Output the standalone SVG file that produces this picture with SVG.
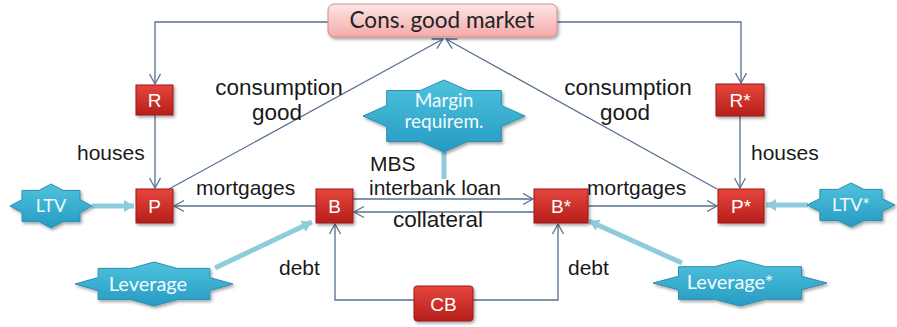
<svg xmlns="http://www.w3.org/2000/svg" width="897" height="327" viewBox="0 0 897 327">
<style>
.box{fill:url(#redg);stroke:#9e1a1a;stroke-width:1;filter:url(#sh)}
.bt{font-family:"Liberation Sans",Arial,sans-serif;font-size:19px;fill:#fff;text-anchor:middle}
.star{fill:url(#blueg);stroke:#2a8fb0;stroke-width:1;filter:url(#sh)}
.st{font-family:Lato,"Open Sans",sans-serif;font-size:19px;fill:#f2fbff;text-anchor:middle}
.ln{fill:none;stroke:#56708f;stroke-width:1.3;marker-end:url(#arr)}
.th{fill:none;stroke:#8fccdb;stroke-width:5;marker-end:url(#tarr)}
.lb{font-family:"Liberation Sans",Arial,sans-serif;font-size:21px;fill:#1a1a1a}
.big{font-size:22.5px;text-anchor:middle}
</style>
<defs>
<linearGradient id="redg" x1="0" y1="0" x2="0" y2="1">
<stop offset="0" stop-color="#e6453d"/><stop offset="1" stop-color="#b51f1b"/>
</linearGradient>
<linearGradient id="blueg" x1="0" y1="0" x2="0" y2="1">
<stop offset="0" stop-color="#4fc2dd"/><stop offset="1" stop-color="#269bc2"/>
</linearGradient>
<linearGradient id="pinkg" x1="0" y1="0" x2="0" y2="1">
<stop offset="0" stop-color="#fde6e6"/><stop offset="1" stop-color="#f5a9a9"/>
</linearGradient>
<filter id="sh" x="-20%" y="-20%" width="140%" height="150%">
<feDropShadow dx="1.5" dy="2" stdDeviation="1.5" flood-color="#000" flood-opacity="0.35"/>
</filter>
<marker id="arr" markerUnits="userSpaceOnUse" markerWidth="14" markerHeight="14" refX="11" refY="7" orient="auto">
<path d="M1,1.5 L11,7 L1,12.5" fill="none" stroke="#56708f" stroke-width="1.3"/>
</marker>
<marker id="tarr" markerUnits="userSpaceOnUse" markerWidth="14" markerHeight="14" refX="10" refY="7" orient="auto">
<path d="M0,1 L10,7 L0,13 Z" fill="#8fccdb"/>
</marker>
</defs>
<rect width="897" height="327" fill="#fff"/>

<g id="connectors">
<path class="ln" d="M328,22 H155 V84"/>
<path class="ln" d="M557,22 H741 V83"/>
<path class="ln" d="M155,115 V188"/>
<path class="ln" d="M740,116 V188"/>
<path class="ln" d="M169,189 L443,39"/>
<path class="ln" d="M717,189 L446,39"/>
<path class="ln" d="M316,206 H174"/>
<path class="ln" d="M588,206 H717"/>
<path class="ln" d="M353,199 H533"/>
<path class="ln" d="M534,212 H354"/>
<path class="ln" d="M414,300 H335 V224"/>
<path class="ln" d="M473,300 H558 V224"/>
<path class="th" d="M92,206 H134"/>
<path class="th" d="M808,205 H766"/>
<path class="th" d="M444,150 V179" style="marker-end:none"/>
<path class="th" d="M215,268 L312,222"/>
<path class="th" d="M682,263 L589,221"/>
</g>

<g id="market">
<rect x="328" y="4" width="229" height="33" rx="6" fill="url(#pinkg)" stroke="#d58a8a" stroke-width="1" filter="url(#sh)"/>
<text x="442" y="28" font-family="Lato,'Open Sans',sans-serif" font-size="22.5" fill="#222" text-anchor="middle">Cons. good market</text>
</g>
<g id="R"><rect class="box" x="136" y="85" width="37" height="30"/><text class="bt" x="154.5" y="107">R</text></g>
<g id="Rs"><rect class="box" x="716" y="84" width="48" height="32"/><text class="bt" x="740" y="107">R*</text></g>
<g id="P"><rect class="box" x="136" y="189" width="37" height="34"/><text class="bt" x="154.5" y="213">P</text></g>
<g id="Ps"><rect class="box" x="718" y="189" width="46" height="34"/><text class="bt" x="741" y="213">P*</text></g>
<g id="B"><rect class="box" x="316" y="189" width="37" height="34"/><text class="bt" x="334.5" y="213">B</text></g>
<g id="Bs"><rect class="box" x="534" y="189" width="54" height="34"/><text class="bt" x="561" y="213">B*</text></g>
<g id="CB"><rect class="box" x="414" y="286" width="59" height="35" rx="3"/><text class="bt" x="443.5" y="311">CB</text></g>

<g id="LTV"><polygon class="star" points="92,206 80,212.4 80,221.6 63,221.6 51,228 39,221.6 22,221.6 22,212.4 10,206 22,199.6 22,190.4 39,190.4 51,184 63,190.4 80,190.4 80,199.6"/><text class="st" x="51" y="212" style="font-size:18px">LTV</text></g>
<g id="LTVs"><polygon class="star" points="895,205 882.1,211.4 882.1,220.6 863.9,220.6 851,227 838.1,220.6 819.9,220.6 819.9,211.4 807,205 819.9,198.6 819.9,189.4 838.1,189.4 851,183 863.9,189.4 882.1,189.4 882.1,198.6"/><text class="st" x="851" y="211" style="font-size:18px">LTV*</text></g>
<g id="Margin"><polygon class="star" points="525,116 501.3,126.5 501.3,141.5 467.7,141.5 444,152 420.3,141.5 386.7,141.5 386.7,126.5 363,116 386.7,105.5 386.7,90.5 420.3,90.5 444,80 467.7,90.5 501.3,90.5 501.3,105.5"/><text class="st" x="444" y="107">Margin</text><text class="st" x="444" y="128">requirem.</text></g>
<g id="Leverage"><polygon class="star" points="233,284 209.9,290.4 209.9,299.6 177.1,299.6 154,306 130.9,299.6 98.1,299.6 98.1,290.4 75,284 98.1,277.6 98.1,268.4 130.9,268.4 154,262 177.1,268.4 209.9,268.4 209.9,277.6"/><text class="st" x="148" y="291" style="font-size:20px">Leverage</text></g>
<g id="Leverages"><polygon class="star" points="827,283 801.5,289.7 801.5,299.3 765.5,299.3 740,306 714.5,299.3 678.5,299.3 678.5,289.7 653,283 678.5,276.3 678.5,266.7 714.5,266.7 740,260 765.5,266.7 801.5,266.7 801.5,276.3"/><text class="st" x="730" y="289" style="font-size:20px">Leverage*</text></g>

<g id="labels">
<text class="lb big" x="279" y="95">consumption</text>
<text class="lb big" x="277" y="120">good</text>
<text class="lb big" x="628" y="95">consumption</text>
<text class="lb big" x="625" y="120">good</text>
<text class="lb" x="77" y="160">houses</text>
<text class="lb" x="751" y="160">houses</text>
<text class="lb" x="196" y="195">mortgages</text>
<text class="lb" x="587" y="195">mortgages</text>
<text class="lb" x="370" y="171">MBS</text>
<text class="lb" x="369" y="195">interbank loan</text>
<text class="lb" x="438" y="227" style="font-size:22.5px;text-anchor:middle">collateral</text>
<text class="lb" x="279" y="275">debt</text>
<text class="lb" x="568" y="275">debt</text>
</g>
</svg>
